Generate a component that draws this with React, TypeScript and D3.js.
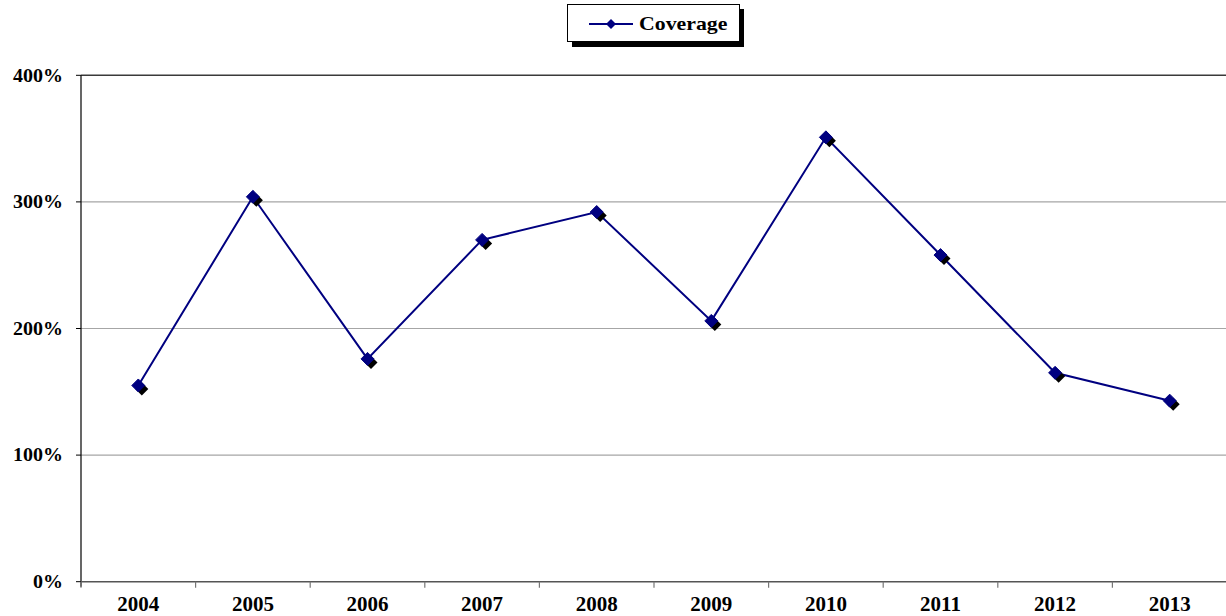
import React from "react";
import * as d3 from "d3";

// Coverage ratio by year (1.0 = 100%)
const years = ["2004", "2005", "2006", "2007", "2008", "2009", "2010", "2011", "2012", "2013"];
const coverage = [1.55, 3.04, 1.76, 2.70, 2.92, 2.06, 3.51, 2.58, 1.65, 1.43];
const yTicks = [0, 1, 2, 3, 4];
const seriesName = "Coverage";

const W = 1226;
const H = 616;
const plot = { left: 81, right: 1227, top: 75.3, bottom: 581.7 };
const NAVY = "#000080";
const FONT = "'Liberation Serif', 'Times New Roman', serif";

function Diamond({ cx, cy, r }: { cx: number; cy: number; r: number }) {
  const pts = (x: number, y: number) => `${x},${y - r} ${x + r},${y} ${x},${y + r} ${x - r},${y}`;
  return (
    <g>
      <polygon points={pts(cx + 3.5, cy + 3.5)} fill="#000" />
      <polygon points={pts(cx, cy)} fill={NAVY} stroke={NAVY} strokeWidth={1} />
    </g>
  );
}

export default function App() {
  const x = d3.scaleBand<string>().domain(years).range([plot.left, plot.right]).padding(0);
  const y = d3.scaleLinear().domain([0, 4]).range([plot.bottom, plot.top]);
  const cx = (d: string) => (x(d) ?? 0) + x.bandwidth() / 2;

  const line = d3
    .line<number>()
    .x((_, i) => cx(years[i]))
    .y((v) => y(v));

  const boundaries = years.map((d) => x(d) ?? 0).concat([plot.right]);
  const pct = d3.format(".0%");

  return (
    <svg
      width={W}
      height={H}
      style={{ position: "absolute", left: 0, top: 0, background: "#fff" }}
      fontFamily={FONT}
    >
      <rect x={0} y={0} width={W} height={H} fill="#fff" />

      {/* horizontal gridlines */}
      {yTicks.slice(1, -1).map((t) => (
        <line key={t} x1={plot.left} x2={plot.right} y1={y(t)} y2={y(t)} stroke="#a6a6a6" strokeWidth={1.2} />
      ))}
      <line x1={plot.left} x2={plot.right} y1={y(4)} y2={y(4)} stroke="#3a3a3a" strokeWidth={1.5} />

      {/* y axis */}
      <line x1={plot.left} x2={plot.left} y1={plot.top} y2={plot.bottom + 5} stroke="#000" strokeWidth={1.2} />
      {yTicks.map((t) => (
        <g key={t}>
          <line x1={plot.left - 5} x2={plot.left} y1={y(t)} y2={y(t)} stroke="#000" strokeWidth={1} />
          <g transform={`translate(63,${y(t)}) scale(1.11,1)`}>
            <text x={0} y={0} dy="0.35em" textAnchor="end" fontSize={18} fontWeight="bold" fill="#000">
              {pct(t)}
            </text>
          </g>
        </g>
      ))}

      {/* x axis */}
      <line x1={plot.left} x2={plot.right} y1={plot.bottom} y2={plot.bottom} stroke="#555" strokeWidth={1.5} />
      {boundaries.map((b, i) => (
        <line key={i} x1={b} x2={b} y1={plot.bottom} y2={plot.bottom + 6} stroke="#777" strokeWidth={1.2} />
      ))}
      {years.map((d) => (
        <g key={d} transform={`translate(${cx(d)},611) scale(1.05,1)`}>
          <text x={0} y={0} textAnchor="middle" fontSize={20} fontWeight="bold" fill="#000">
            {d}
          </text>
        </g>
      ))}

      {/* series */}
      <path d={line(coverage) ?? ""} fill="none" stroke={NAVY} strokeWidth={2} />
      {coverage.map((v, i) => (
        <Diamond key={years[i]} cx={cx(years[i])} cy={y(v)} r={6.5} />
      ))}

      {/* legend */}
      <g>
        <rect x={572} y={9} width={172} height={38} fill="#000" />
        <rect x={567.5} y={4.5} width={172} height={37} fill="#fff" stroke="#000" strokeWidth={1} />
        <line x1={589} x2={633} y1={24} y2={24} stroke={NAVY} strokeWidth={2} />
        <polygon points="611,19 616,24 611,29 606,24" fill={NAVY} />
        <g transform="translate(639,30) scale(1.18,1)">
          <text x={0} y={0} fontSize={18.5} fontWeight="bold" fill="#000">
            {seriesName}
          </text>
        </g>
      </g>
    </svg>
  );
}
